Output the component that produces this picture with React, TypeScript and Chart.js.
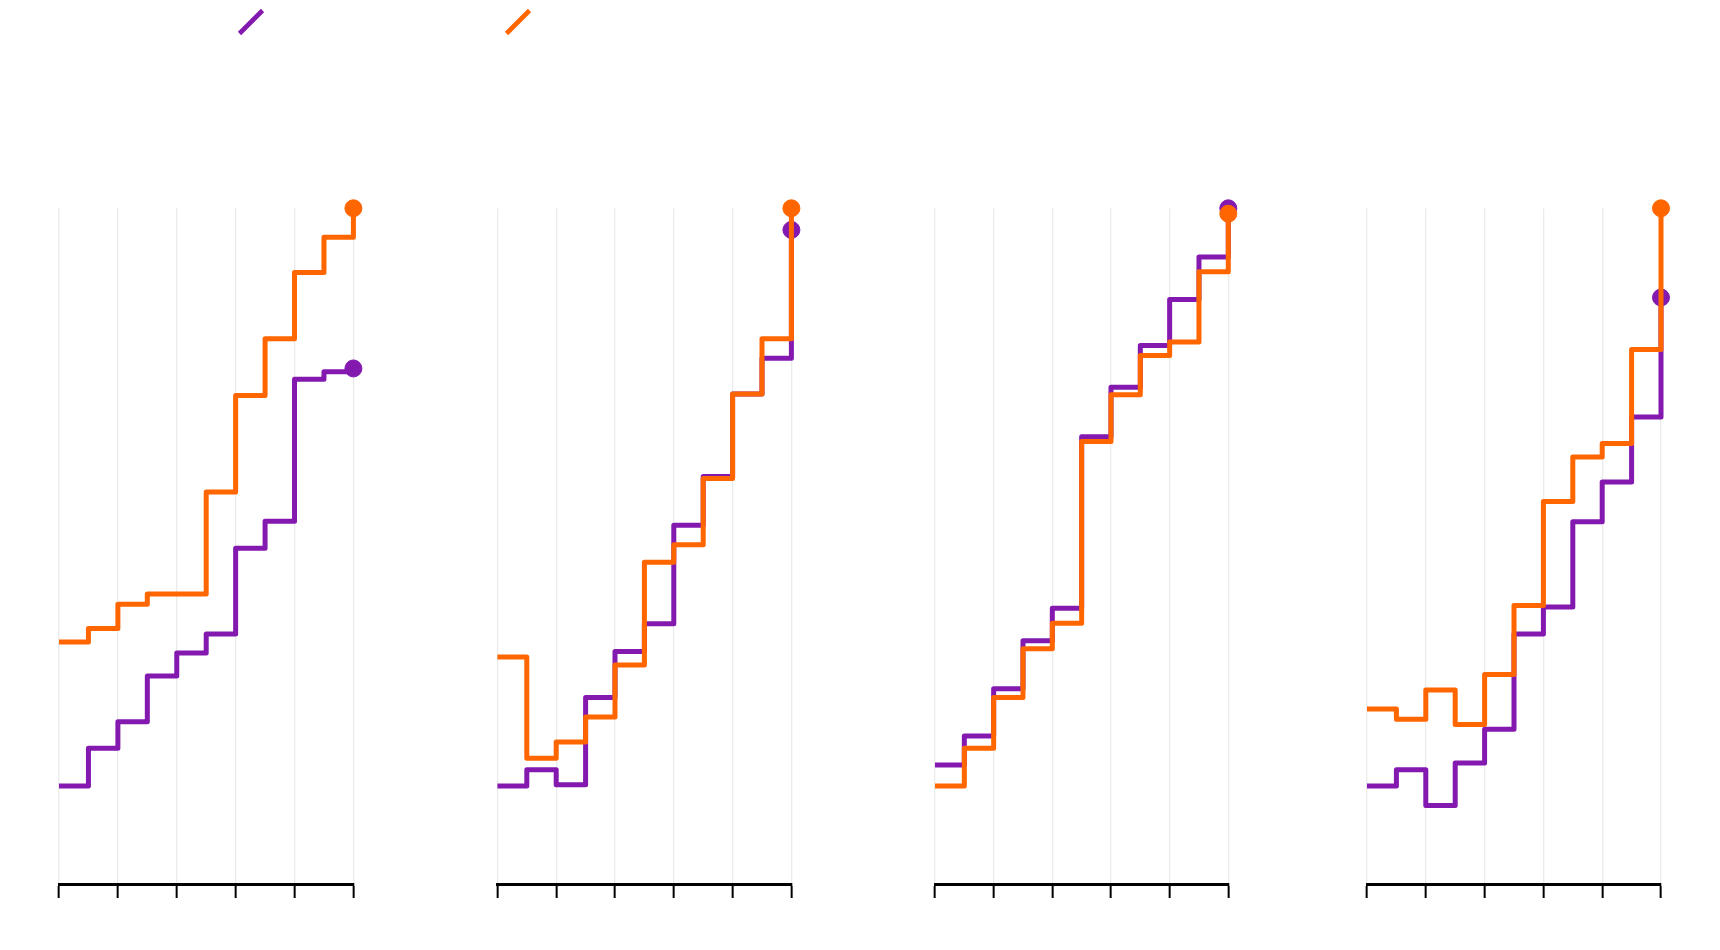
import React, { useEffect, useRef } from 'react';
import { Chart, registerables } from 'chart.js';

Chart.register(...registerables);
Chart.defaults.font.family = 'DejaVu Sans';

// ---- data -------------------------------------------------------------
const stepPositions = [0, 0.5, 1, 1.5, 2, 2.5, 3, 3.5, 4, 4.5, 5];
const xTickValues = [0, 1, 2, 3, 4, 5];
const seriesNames = ['Series 1', 'Series 2'];

const panel1Purple = [14.5, 20.1, 24.0, 30.8, 34.2, 37.0, 49.7, 53.7, 74.7, 75.8, 76.3];
const panel1Orange = [35.8, 37.8, 41.4, 42.9, 42.9, 58.0, 72.3, 80.7, 90.5, 95.7, 100];

const panel2Purple = [14.5, 16.9, 14.7, 27.6, 34.4, 38.5, 53.1, 60.3, 72.5, 77.8, 96.8];
const panel2Orange = [33.6, 18.6, 21.0, 24.7, 32.4, 47.6, 50.2, 60.0, 72.5, 80.7, 100];

const panel3Purple = [17.6, 21.9, 28.9, 36.0, 40.8, 66.2, 73.5, 79.7, 86.5, 92.8, 100];
const panel3Orange = [14.5, 20.1, 27.6, 34.8, 38.6, 65.5, 72.4, 78.2, 80.2, 90.6, 99.2];

const panel4Purple = [14.5, 16.9, 11.6, 17.9, 22.9, 37.0, 41.0, 53.6, 59.5, 69.1, 86.8];
const panel4Orange = [25.9, 24.4, 28.7, 23.6, 31.0, 41.2, 56.6, 63.2, 65.2, 79.1, 100];

const yMin = 0;
const yMax = 100;

// ---- styles / layout ---------------------------------------------------
const PURPLE = '#8419b0';
const ORANGE = '#ff6600';
const GRID = '#ebebeb';
const CANVAS_H = 950;
const AREA_TOP = 208.3;
const AREA_BOTTOM = 884;
const LINE_W = 5;

type PanelSpec = {
  left: number;
  width: number;
  areaLeft: number;
  areaRight: number;
  legendSeries: number | null;
  legendAlign: 'start' | 'center' | 'end';
  purple: number[];
  orange: number[];
};

const panels: PanelSpec[] = [
  { left: 0, width: 514, areaLeft: 59, areaRight: 353.4, legendSeries: 0, legendAlign: 'center', purple: panel1Purple, orange: panel1Orange },
  { left: 496.3, width: 316, areaLeft: 497.7, areaRight: 791.7, legendSeries: 1, legendAlign: 'start', purple: panel2Purple, orange: panel2Orange },
  { left: 915, width: 335, areaLeft: 935, areaRight: 1228.3, legendSeries: null, legendAlign: 'start', purple: panel3Purple, orange: panel3Orange },
  { left: 1347, width: 340, areaLeft: 1367, areaRight: 1661, legendSeries: null, legendAlign: 'start', purple: panel4Purple, orange: panel4Orange },
];

function makeDataset(label: string, color: string, values: number[]) {
  const last = values.length - 1;
  return {
    label,
    data: stepPositions.map((x, i) => ({ x, y: values[i] })),
    xAxisID: 'x',
    yAxisID: 'y',
    borderColor: color,
    backgroundColor: color,
    borderWidth: LINE_W,
    borderJoinStyle: 'round' as const,
    stepped: 'before' as const,
    tension: 0,
    fill: false,
    pointRadius: values.map((_, i) => (i === last ? 8.5 : 0)),
    pointHoverRadius: values.map((_, i) => (i === last ? 8.5 : 0)),
    pointBorderWidth: 1,
    pointBackgroundColor: color,
    pointBorderColor: color,
    clip: false as const,
  };
}

function Panel({ spec }: { spec: PanelSpec }) {
  const ref = useRef<HTMLCanvasElement | null>(null);

  useEffect(() => {
    if (!ref.current) return;
    const series = [
      { label: seriesNames[0], color: PURPLE, values: spec.purple },
      { label: seriesNames[1], color: ORANGE, values: spec.orange },
    ];
    // orange first so it is drawn on top
    const datasets = [series[1], series[0]].map((s) => makeDataset(s.label, s.color, s.values));
    const legendSeries = spec.legendSeries;

    const chart = new Chart(ref.current, {
      type: 'line',
      data: { datasets: datasets as any },
      options: {
        responsive: false,
        animation: false,
        events: [],
        layout: { padding: 0, autoPadding: false },
        plugins: {
          tooltip: { enabled: false },
          title: { display: false },
          legend: {
            display: legendSeries !== null,
            position: 'top',
            align: spec.legendAlign,
            fullSize: true,
            labels: {
              usePointStyle: true,
              boxWidth: 24,
              boxHeight: 23,
              padding: 10,
              font: { size: 24 },
              generateLabels: () => {
                if (legendSeries === null) return [];
                const s = series[legendSeries];
                return [
                  {
                    text: '',
                    fillStyle: s.color,
                    strokeStyle: s.color,
                    fontColor: s.color,
                    lineWidth: 4.6,
                    lineCap: 'butt',
                    pointStyle: 'line',
                    rotation: -45,
                    hidden: false,
                    datasetIndex: legendSeries === 0 ? 1 : 0,
                  } as any,
                ];
              },
            },
          },
        },
        scales: {
          x: {
            type: 'linear',
            position: 'bottom',
            min: xTickValues[0],
            max: xTickValues[xTickValues.length - 1],
            ticks: { stepSize: 1, display: false },
            grid: {
              color: GRID,
              lineWidth: 1.3,
              drawTicks: true,
              tickLength: 14,
              tickColor: '#000000',
              tickWidth: 2,
            },
            border: { display: true, color: '#000000', width: 3 },
            afterFit: (s: any) => {
              s.height = CANVAS_H - AREA_BOTTOM;
            },
          },
          xTop: {
            type: 'linear',
            position: 'top',
            display: true,
            ticks: { display: false },
            grid: { display: false },
            border: { display: false },
            afterFit: (s: any) => {
              const lg = s.chart.legend;
              s.height = AREA_TOP - (lg && lg.options && lg.options.display ? lg.height : 0);
            },
          },
          y: {
            type: 'linear',
            position: 'left',
            min: yMin,
            max: yMax,
            ticks: { display: false },
            grid: { display: false },
            border: { display: false },
            afterFit: (s: any) => {
              s.width = spec.areaLeft - spec.left;
            },
          },
          yR: {
            type: 'linear',
            position: 'right',
            ticks: { display: false },
            grid: { display: false },
            border: { display: false },
            afterFit: (s: any) => {
              s.width = spec.left + spec.width - spec.areaRight;
            },
          },
        } as any,
      },
    });
    return () => chart.destroy();
  }, [spec]);

  return (
    <canvas
      ref={ref}
      width={spec.width}
      height={CANVAS_H}
      style={{ position: 'absolute', left: spec.left, top: 0, width: spec.width, height: CANVAS_H }}
    />
  );
}

export default function App() {
  return (
    <div
      style={{
        position: 'absolute',
        left: 0,
        top: 0,
        width: 1720,
        height: CANVAS_H,
        background: '#ffffff',
        overflow: 'hidden',
      }}
    >
      {panels.map((p, i) => (
        <Panel key={i} spec={p} />
      ))}
    </div>
  );
}
